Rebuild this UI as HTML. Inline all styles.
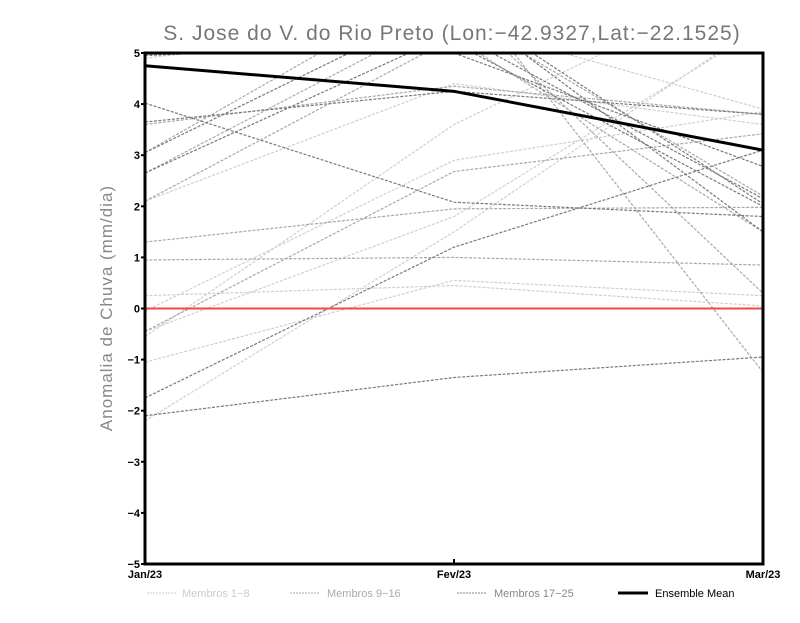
<!DOCTYPE html>
<html><head><meta charset="utf-8"><style>
body{margin:0;background:#fff;width:800px;height:618px;overflow:hidden;font-family:"Liberation Sans",sans-serif}
</style></head><body>
<svg id="chart" width="800" height="618" xmlns="http://www.w3.org/2000/svg">
<text x="452" y="40" text-anchor="middle" font-size="21" fill="#777" font-family="Liberation Sans, sans-serif" letter-spacing="1">S. Jose do V. do Rio Preto (Lon:−42.9327,Lat:−22.1525)</text>
<text transform="translate(112,308) rotate(-90)" text-anchor="middle" font-size="17" fill="#888" letter-spacing="1">Anomalia de Chuva (mm/dia)</text>
<defs><clipPath id="plotclip"><rect x="145" y="53" width="618" height="511"/></clipPath></defs>
<g id="members" clip-path="url(#plotclip)"></g>
<g id="axes"></g>
<g id="legend">
<line x1="147" y1="593" x2="177" y2="593" stroke="#ccc" stroke-dasharray="2,1"/>
<text x="182" y="597" font-size="11" fill="#ccc">Membros 1−8</text>
<line x1="290" y1="593" x2="320" y2="593" stroke="#aaa" stroke-dasharray="2,1"/>
<text x="327" y="597" font-size="11" fill="#aaa">Membros 9−16</text>
<line x1="457" y1="593" x2="487" y2="593" stroke="#888" stroke-dasharray="2,1"/>
<text x="494" y="597" font-size="11" fill="#888">Membros 17−25</text>
<line x1="618" y1="593" x2="648" y2="593" stroke="#000" stroke-width="3"/>
<text x="655" y="597" font-size="11" fill="#000">Ensemble Mean</text>
</g>
</svg>
<script>
const categories = ["Jan/23","Fev/23","Mar/23"];
const yTicks = [-5,-4,-3,-2,-1,0,1,2,3,4,5];
const group1 = [[-2.2,1.5,5.6],[-1.05,0.55,0.25],[0.25,0.45,0.05],[-0.05,2.9,3.85],[-0.55,3.6,6.5],[4.9,5.6,3.9],[2.1,4.4,3.6],[-0.45,1.8,5.5]];
const group2 = [[0.95,1.0,0.85],[2.65,5.8,2.2],[2.1,5.3,1.5],[-0.45,2.68,3.42],[4.95,6.0,0.3],[3.05,6.5,-1.25],[1.3,1.95,1.98],[3.6,4.35,3.8]];
const group3 = [[-2.1,-1.35,-0.95],[4.02,2.08,1.8],[3.65,4.25,3.8],[3.05,6.0,2.05],[5.5,5.0,2.78],[5.3,6.0,1.5],[-1.75,1.2,3.1],[2.65,5.4,2.15],[4.95,5.2,2.0]];
const ensembleMean = [4.75,4.25,3.1];
const L=145,R=763,T=53,B=564;
const xs=i=>L+(R-L)*i/(categories.length-1);
const ys=v=>B-(v+5)*(B-T)/10;
const NS="http://www.w3.org/2000/svg";
function mk(tag,attrs,parent){const e=document.createElementNS(NS,tag);for(const k in attrs)e.setAttribute(k,attrs[k]);parent.appendChild(e);return e;}
const mg=document.getElementById('members');
const groups=[[group1,"#cfcfcf","member-light"],[group2,"#a8a8a8","member-mid"],[group3,"#7a7a7a","member-dark"]];
groups.forEach(([g,c,n])=>g.forEach((s,j)=>{
 const p=mk('polyline',{points:s.map((v,i)=>xs(i)+','+ys(v)).join(' '),fill:'none',stroke:c,'stroke-width':1.2,'stroke-dasharray':'3,1.5'},mg);
 
 
}));
const zl=mk('line',{x1:L,x2:R,y1:ys(0),y2:ys(0),stroke:'#f04848','stroke-width':2},mg);


const em=mk('polyline',{points:ensembleMean.map((v,i)=>xs(i)+','+ys(v)).join(' '),fill:'none',stroke:'#000','stroke-width':3},mg);


const ax=document.getElementById('axes');
const fr=mk('rect',{x:L,y:T,width:R-L,height:B-T,fill:'none',stroke:'#000','stroke-width':3},ax);


yTicks.forEach(t=>{
 mk('line',{x1:L-4,x2:L,y1:ys(t),y2:ys(t),stroke:'#000','stroke-width':2},ax);
 const tx=mk('text',{x:L-5,y:ys(t)+4,'text-anchor':'end','font-size':11,'font-weight':'bold',fill:'#000'},ax);
 tx.textContent=t<0?'−'+(-t):String(t);
 
 
});
categories.forEach((c,i)=>{
 mk('line',{x1:xs(i),x2:xs(i),y1:B,y2:B-5,stroke:'#000','stroke-width':2},ax);
 const tx=mk('text',{x:xs(i),y:B+14,'text-anchor':'middle','font-size':11,'font-weight':'bold',fill:'#000'},ax);
 tx.textContent=c;
 
 
});
</script>
</body></html>
